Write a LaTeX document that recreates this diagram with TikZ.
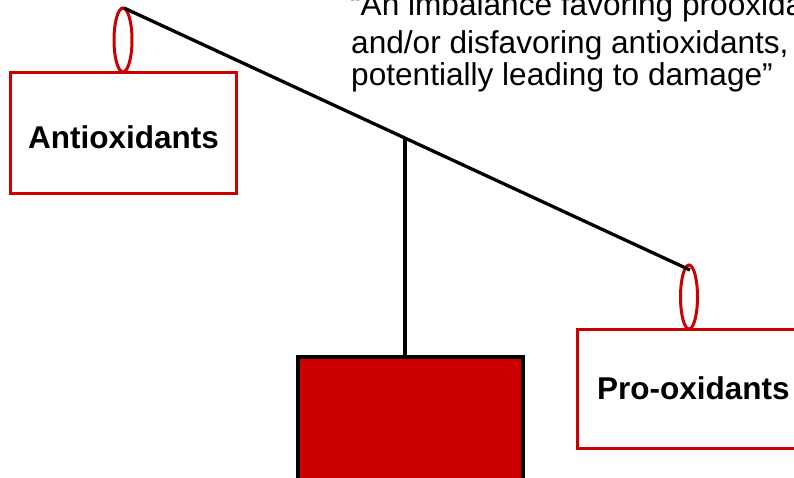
\documentclass[tikz,border=0pt]{standalone}
\usepackage{fontspec}
\setmainfont{Liberation Sans}
\definecolor{dred}{HTML}{CC0000}
\begin{document}
\begin{tikzpicture}[x=1pt,y=-1pt,
  beam/.style={line width=3.3pt,black},
  redbox/.style={draw=dred,line width=3pt,fill=white},
  lbl/.style={font=\fontsize{31.5}{32}\bfseries\selectfont,inner sep=0pt},
  quote/.style={font=\fontsize{31.6}{32}\selectfont,inner sep=0pt,anchor=base west}]
\useasboundingbox (0,0) rectangle (794,477);
\clip (0,0) rectangle (794,477);
% pan boxes
\draw[redbox] (10,72) rectangle (236,193);
\draw[redbox] (577,329) rectangle (860,448);
\node[lbl] (anti) at (123.5,137) {Antioxidants};
\node[lbl,anchor=base west] (pro) at (597,399) {Pro-oxidants};
% rings
\draw[dred,line width=3pt] (123,40) ellipse [x radius=9, y radius=32];
\draw[dred,line width=3pt] (689,297) ellipse [x radius=8.5, y radius=32];
\coordinate (bl) at (124,8);
\coordinate (br) at (690,270);
\coordinate (pivot) at (405,138);
% weight
\node[draw=black,line width=3.5pt,fill=dred,minimum width=225pt,minimum height=140pt,anchor=north,inner sep=0pt] (weight) at (410.5,355) {};
\draw[beam] (pivot) -- (pivot |- weight.north);
\draw[beam] (bl) -- (br);
% quote text
\node[quote] (l1) at (350,15) {“An imbalance favoring prooxidants};
\node[quote] (l2) at (351,53) {and/or disfavoring antioxidants,};
\node[quote] (l3) at (351,85) {potentially leading to damage”};
\end{tikzpicture}
\end{document}
